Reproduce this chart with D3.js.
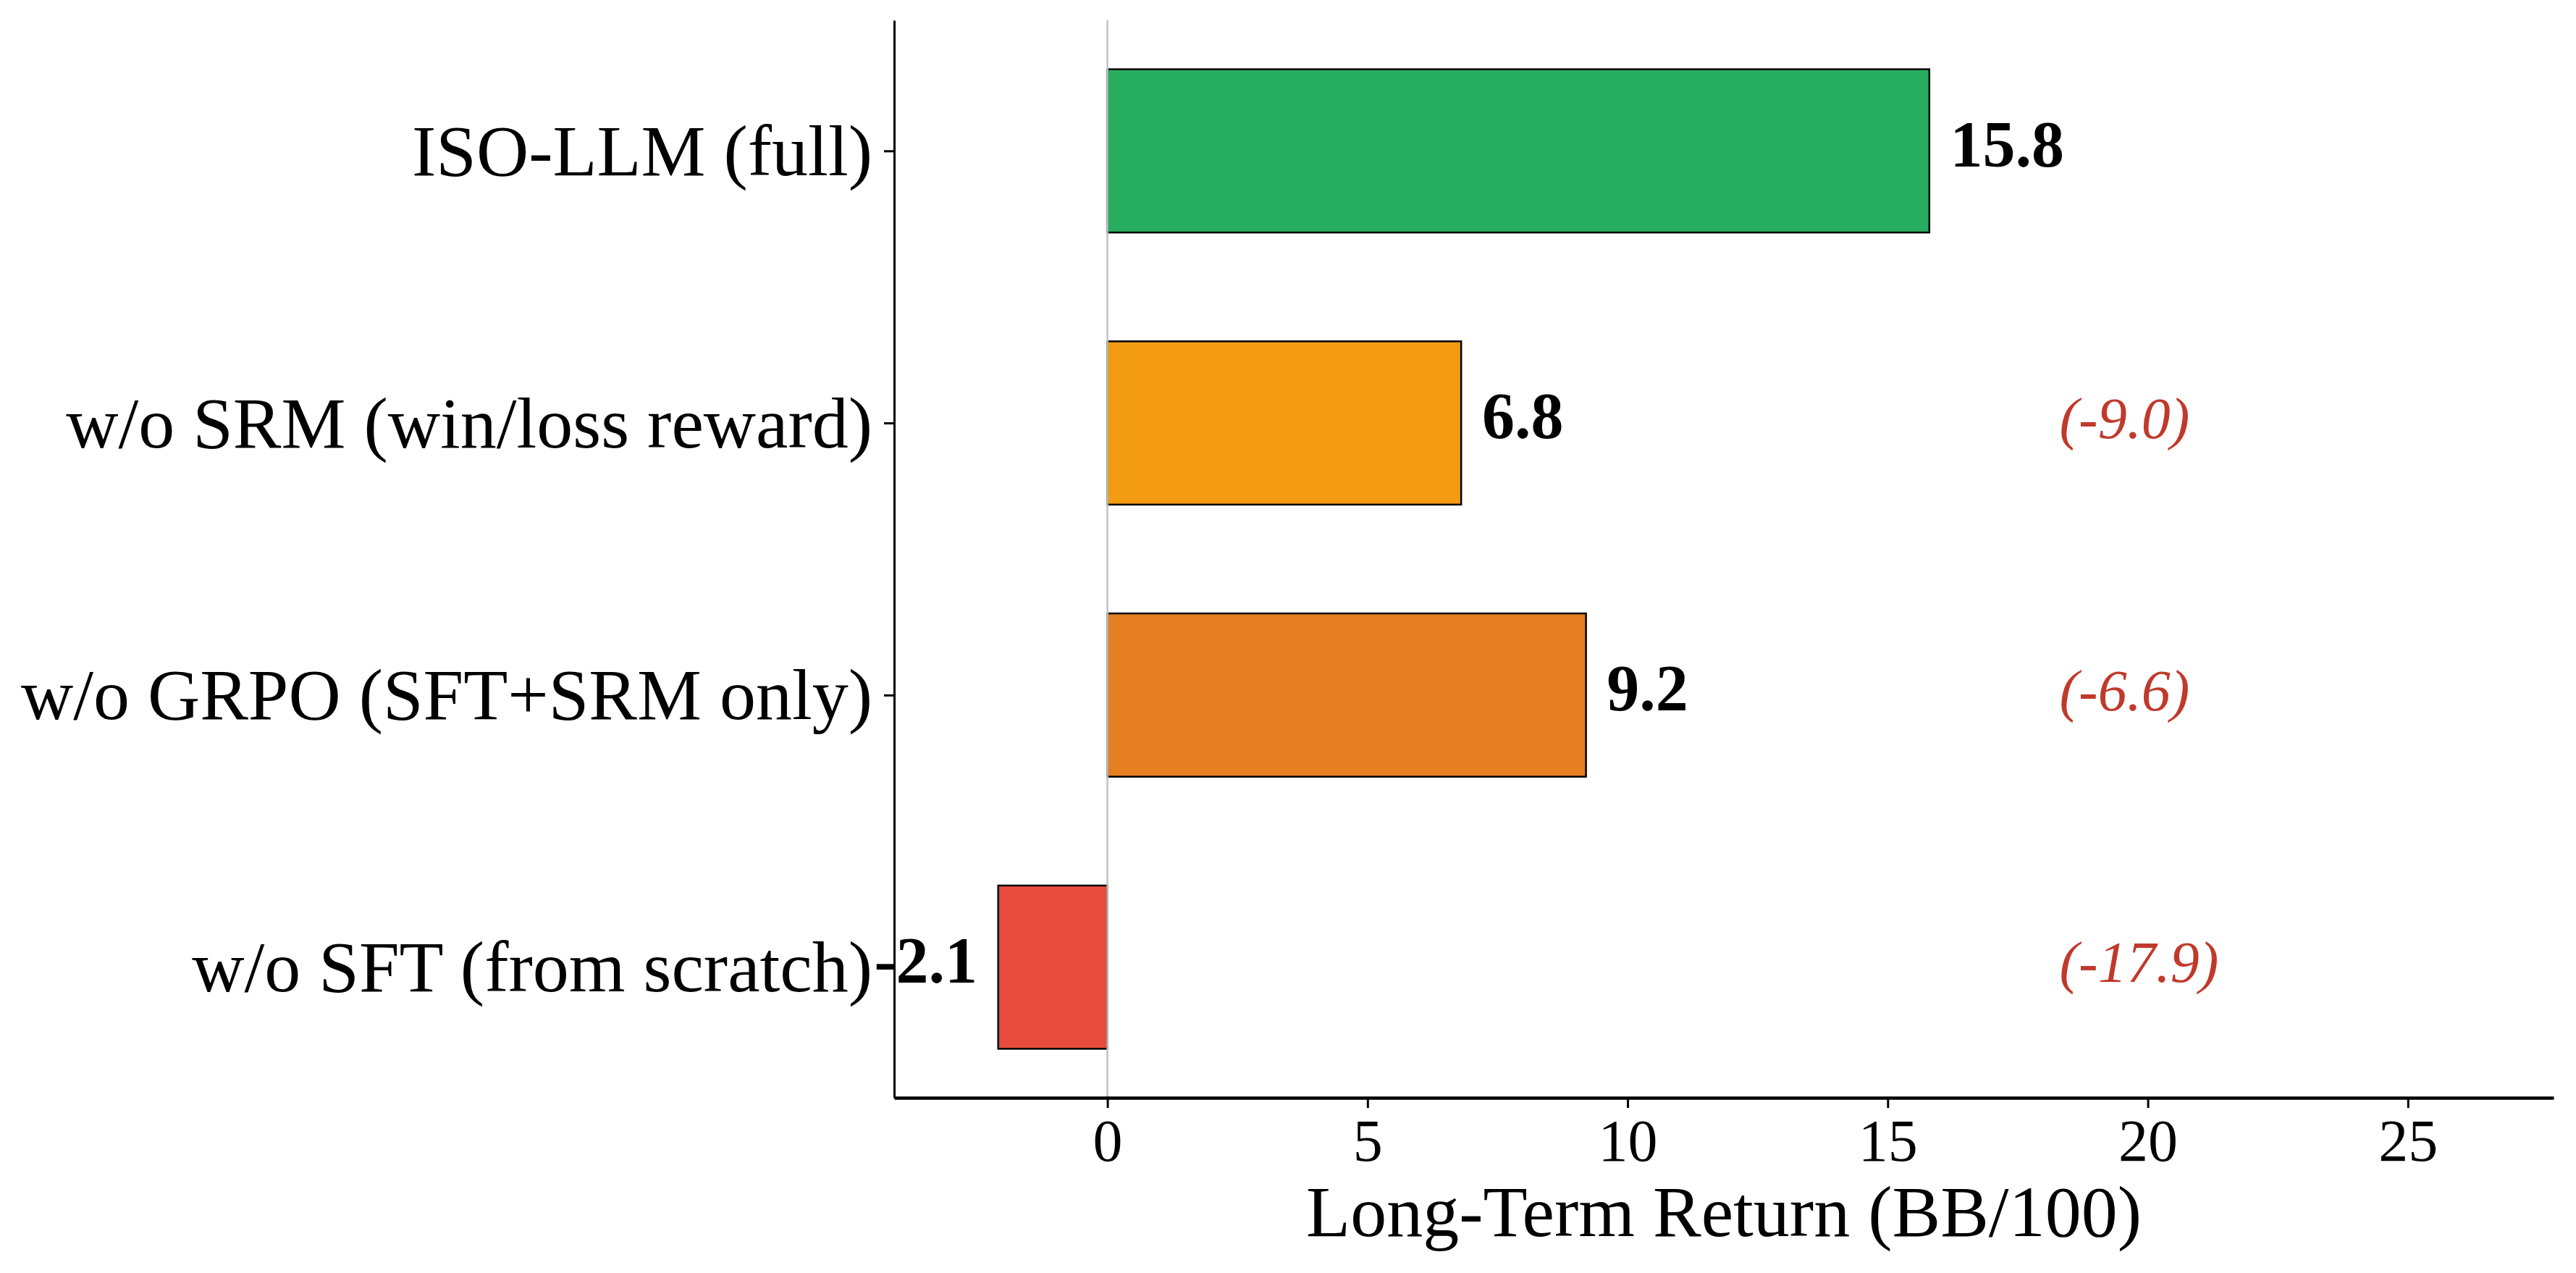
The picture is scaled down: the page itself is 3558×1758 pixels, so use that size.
<!DOCTYPE html>
<html>
<head>
<meta charset="utf-8">
<script src="https://cdn.jsdelivr.net/npm/d3@7"></script>
<style>
  html, body { margin: 0; padding: 0; background: #ffffff; }
  svg { display: block; }
  text { font-family: "Liberation Serif", "Times New Roman", serif; }
</style>
</head>
<body>
<svg id="chart" width="3558" height="1758"></svg>
<script>
// ---- data ----
const categories = ["ISO-LLM (full)", "w/o SRM (win/loss reward)", "w/o GRPO (SFT+SRM only)", "w/o SFT (from scratch)"];
const values = [15.8, 6.8, 9.2, -2.1];
const deltaLabels = [null, "(-9.0)", "(-6.6)", "(-17.9)"];
const barColors = ["#27ae60", "#f39c12", "#e67e22", "#e74c3c"];
const xTicks = [0, 5, 10, 15, 20, 25];
const xTitle = "Long-Term Return (BB/100)";

// ---- layout ----
const W = 3558, H = 1758;
const plot = { left: 1235, right: 3527, top: 28, bottom: 1516 };
const svg = d3.select("#chart");

const x = d3.scaleLinear().domain([-4.1, 27.8]).range([plot.left, plot.right]);
const y = d3.scaleLinear().domain([-0.48, 3.48]).range([plot.top, plot.bottom]);
const barH = 0.6;

// bars
svg.append("g").selectAll("rect").data(values).join("rect")
  .attr("x", d => x(Math.min(0, d)))
  .attr("width", d => Math.abs(x(d) - x(0)))
  .attr("y", (d, i) => y(i - barH / 2))
  .attr("height", (d, i) => y(i + barH / 2) - y(i - barH / 2))
  .attr("fill", (d, i) => barColors[i])
  .attr("stroke", "#000")
  .attr("stroke-width", 2.5);

// zero line
svg.append("line")
  .attr("x1", x(0)).attr("x2", x(0))
  .attr("y1", plot.top).attr("y2", plot.bottom)
  .attr("stroke", "#c2c2c2").attr("stroke-width", 2.5);

// value labels
svg.append("g").selectAll("text").data(values).join("text")
  .attr("x", d => d >= 0 ? x(d + 0.4) : x(d - 0.4))
  .attr("y", (d, i) => y(i))
  .attr("dy", "0.235em")
  .attr("text-anchor", d => d >= 0 ? "start" : "end")
  .attr("font-weight", "bold")
  .attr("font-size", 90)
  .attr("fill", "#000")
  .text(d => d.toFixed(1));

// delta labels
const maxV = d3.max(values);
svg.append("g").selectAll("text").data(deltaLabels).join("text")
  .filter(d => d !== null)
  .attr("x", x(maxV + 2.5))
  .attr("y", (d) => y(deltaLabels.indexOf(d)))
  .attr("dy", "0.26em")
  .attr("text-anchor", "start")
  .attr("font-style", "italic")
  .attr("font-size", 80)
  .attr("fill", "#c0392b")
  .text(d => d);

// x axis
const xAxis = d3.axisBottom(x).tickValues(xTicks).tickSize(14).tickPadding(8).tickSizeOuter(0).tickFormat(d3.format("d"));
const gx = svg.append("g").attr("transform", `translate(0,${plot.bottom})`).call(xAxis);
gx.select(".domain").attr("stroke", "#000").attr("stroke-width", 4.5);
gx.selectAll(".tick line").attr("stroke", "#000").attr("stroke-width", 3);
gx.selectAll(".tick text").attr("font-size", 82).attr("fill", "#000")
  .attr("font-family", "'Liberation Serif', 'Times New Roman', serif")
  .attr("dy", null).attr("y", 87 - 0).attr("dominant-baseline", "alphabetic");

// y axis
const yAxis = d3.axisLeft(y).tickValues(d3.range(categories.length)).tickFormat(i => categories[i])
  .tickSize(14).tickPadding(16).tickSizeOuter(0);
const gy = svg.append("g").attr("transform", `translate(${plot.left},0)`).call(yAxis);
gy.select(".domain").attr("stroke", "#000").attr("stroke-width", 3);
gy.selectAll(".tick line").attr("stroke", "#000").attr("stroke-width", 3);
gy.selectAll(".tick text").attr("font-size", 100).attr("fill", "#000")
  .attr("font-family", "'Liberation Serif', 'Times New Roman', serif")
  .attr("dy", "0.33em");

// x title
svg.append("text")
  .attr("x", (plot.left + plot.right) / 2)
  .attr("y", 1707)
  .attr("text-anchor", "middle")
  .attr("font-size", 100)
  .attr("fill", "#000")
  .text(xTitle);
</script>
</body>
</html>
